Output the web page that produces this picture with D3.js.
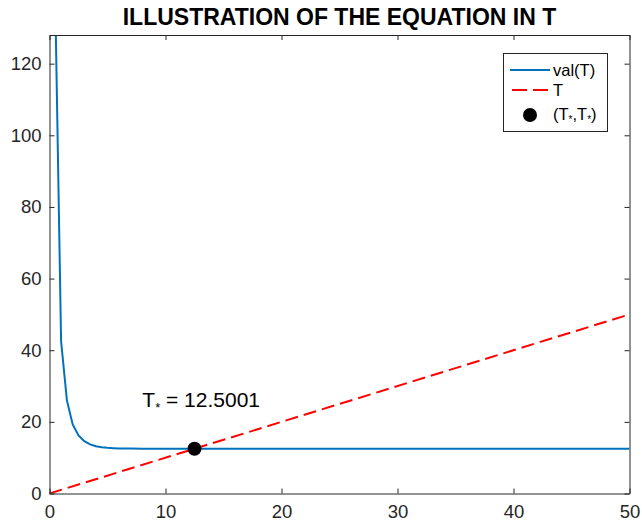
<!DOCTYPE html>
<html><head><meta charset="utf-8">
<script src="https://d3js.org/d3.v7.min.js"></script>
<style>body{margin:0;background:#fff}svg{display:block}text{font-family:"Liberation Sans",Arial,Helvetica,sans-serif}</style>
</head><body>
<script>
const T = [0.5,1,1.5,2,2.5,3,3.5,4,4.5,5,5.5,6,7,8,10,15,20,30,40,50];
const valT = [137,42.5,26,19.3,16.2,14.6,13.7,13.2,12.9,12.75,12.65,12.58,12.53,12.51,12.5,12.5,12.5,12.5,12.5,12.5];
const lineT = [0,50];
const Tstar = 12.5001;
const xTicks = [0,10,20,30,40,50];
const yTicks = [0,20,40,60,80,100,120];
const legendLabels = ["val(T)","T"];
const title = "ILLUSTRATION OF THE EQUATION IN T";

const W=642,H=523, m={l:49.5,r:12.5,t:35,b:29.5};
const svg=d3.select("body").append("svg").attr("width",W).attr("height",H);
const x=d3.scaleLinear().domain([0,50]).range([m.l,W-m.r]);
const y=d3.scaleLinear().domain([0,128]).range([H-m.b,m.t]);
const ax="#262626";
const defs=svg.append("defs");
defs.append("clipPath").attr("id","c").append("rect").attr("x",m.l).attr("y",m.t).attr("width",W-m.r-m.l).attr("height",H-m.b-m.t);

// data
const g=svg.append("g").attr("clip-path","url(#c)");
g.append("path").datum(T.map((t,i)=>[t,valT[i]])).attr("fill","none").attr("stroke","#0072BD").attr("stroke-width",2)
 .attr("d",d3.line().x(d=>x(d[0])).y(d=>y(d[1])));
g.append("path").datum(lineT.map(t=>[t,t])).attr("fill","none").attr("stroke","#FF0000").attr("stroke-width",2).attr("stroke-dasharray","13,6")
 .attr("d",d3.line().x(d=>x(d[0])).y(d=>y(d[1])));
svg.append("circle").attr("cx",x(Tstar)).attr("cy",y(Tstar)).attr("r",7).attr("fill","#000");

// axes
const xa=svg.append("g").attr("transform",`translate(0,${H-m.b})`).call(d3.axisBottom(x).tickValues(xTicks).tickSizeInner(-5).tickSizeOuter(0).tickPadding(11));
const xt=svg.append("g").attr("transform",`translate(0,${m.t})`).call(d3.axisTop(x).tickValues(xTicks).tickSizeInner(-5).tickSizeOuter(0).tickFormat(""));
const ya=svg.append("g").attr("transform",`translate(${m.l},0)`).call(d3.axisLeft(y).tickValues(yTicks).tickSizeInner(-5).tickSizeOuter(0).tickPadding(8));
const yr=svg.append("g").attr("transform",`translate(${W-m.r},0)`).call(d3.axisRight(y).tickValues(yTicks).tickSizeInner(-5).tickSizeOuter(0).tickFormat(""));
[xa,xt,ya,yr].forEach(a=>{a.selectAll("path,line").attr("stroke",ax);a.select(".domain").attr("stroke-width",1);
 a.selectAll("text").attr("fill",ax).style("font-size","18.5px").style("font-family","'Liberation Sans',Arial,sans-serif");});

// title
svg.append("text").attr("x",(m.l+W-m.r)/2).attr("y",25).attr("text-anchor","middle").style("font-weight","bold").style("font-size","23px").attr("fill","#000").text(title);

// annotation
const ann=svg.append("text").attr("x",x(8.0)).attr("y",407).style("font-size","21px").attr("fill","#000");
ann.append("tspan").text("T");
ann.append("tspan").attr("dy",5).style("font-size","13px").text("*");
ann.append("tspan").attr("dy",-5).text(" = "+Tstar.toFixed(4));

// legend
const lg=svg.append("g");
lg.append("rect").attr("x",503.5).attr("y",53.5).attr("width",104).attr("height",78).attr("fill","#fff").attr("stroke",ax);
lg.append("line").attr("x1",510).attr("x2",550).attr("y1",70).attr("y2",70).attr("stroke","#0072BD").attr("stroke-width",2);
lg.append("line").attr("x1",512).attr("x2",548).attr("y1",90).attr("y2",90).attr("stroke","#FF0000").attr("stroke-width",2).attr("stroke-dasharray","15,6");
lg.append("circle").attr("cx",530).attr("cy",115).attr("r",7).attr("fill","#000");
legendLabels.forEach((l,i)=>lg.append("text").attr("x",553).attr("y",76+i*20).style("font-size","16.5px").attr("fill","#000").text(l));
const l3=lg.append("text").attr("x",553).attr("y",120).style("font-size","16.5px").attr("fill","#000");
l3.append("tspan").text("(T");
l3.append("tspan").attr("dy",3).style("font-size","10px").text("*");
l3.append("tspan").attr("dy",-3).text(",T");
l3.append("tspan").attr("dy",3).style("font-size","10px").text("*");
l3.append("tspan").attr("dy",-3).text(")");
</script>
</body></html>
